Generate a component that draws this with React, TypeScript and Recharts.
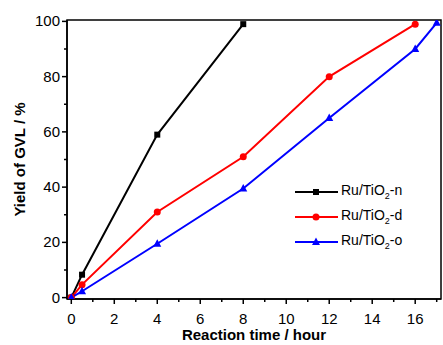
import { LineChart, Line, XAxis, YAxis, Legend, ReferenceArea } from "recharts";

const timeN = [0, 0.5, 4, 8];
const yieldN = [0, 8.3, 59, 99];
const timeD = [0, 0.5, 4, 8, 12, 16];
const yieldD = [0, 4.7, 31, 51, 80, 99];
const timeO = [0, 0.5, 4, 8, 12, 16, 17];
const yieldO = [0, 2.3, 19.5, 39.5, 65, 90, 99.5];

const xTicks = [0, 1, 2, 3, 4, 5, 6, 7, 8, 9, 10, 11, 12, 13, 14, 15, 16, 17];
const yTicks = [0, 10, 20, 30, 40, 50, 60, 70, 80, 90, 100];

const FONT = "'Liberation Sans', Arial, sans-serif";

const toRows = (ts: number[], ys: number[]) => ts.map((t, i) => ({ t, y: ys[i] }));

const series = [
  { id: "n", name: "-n", color: "#000000", shape: "square", data: toRows(timeN, yieldN) },
  { id: "d", name: "-d", color: "#ff0000", shape: "circle", data: toRows(timeD, yieldD) },
  { id: "o", name: "-o", color: "#0000ff", shape: "triangle", data: toRows(timeO, yieldO) },
];

function Marker({ cx, cy, shape, color }: any) {
  if (cx == null || cy == null) return null;
  if (shape === "square") {
    return <rect x={cx - 3} y={cy - 3} width={6} height={6} fill={color} />;
  }
  if (shape === "triangle") {
    return <path d={`M${cx},${cy - 4.5} L${cx + 4},${cy + 3} L${cx - 4},${cy + 3} Z`} fill={color} />;
  }
  return <circle cx={cx} cy={cy} r={3.5} fill={color} />;
}

// tickSize/tickMargin are 0, so x,y arrive on the axis line itself
function XTick({ x, y, payload }: any) {
  const v = payload.value;
  const major = v % 2 === 0;
  return (
    <g>
      <line x1={x} x2={x} y1={y} y2={y + (major ? 5 : 3)} stroke="#000" strokeWidth={1.5} />
      {major && (
        <text x={x} y={y + 25} textAnchor="middle" fontSize={15} fontFamily={FONT} fill="#000">
          {v}
        </text>
      )}
    </g>
  );
}

function YTick({ x, y, payload }: any) {
  const v = payload.value;
  const major = v % 20 === 0;
  return (
    <g>
      <line x1={x - (major ? 5 : 3)} x2={x} y1={y} y2={y} stroke="#000" strokeWidth={1.5} />
      {major && (
        <text x={x - 7} y={y + 5} textAnchor="end" fontSize={15} fontFamily={FONT} fill="#000">
          {v}
        </text>
      )}
    </g>
  );
}

function LegendContent() {
  return (
    <div style={{ fontFamily: FONT, fontSize: 14, color: "#000" }}>
      {series.map((s) => (
        <div key={s.id} style={{ display: "flex", alignItems: "center", height: 25 }}>
          <svg width={46} height={12}>
            <line x1={0} x2={43} y1={6} y2={6} stroke={s.color} strokeWidth={2} />
            <Marker cx={21} cy={6} shape={s.shape} color={s.color} />
          </svg>
          <span>
            Ru/TiO<sub style={{ fontSize: 9 }}>2</sub>
            {s.name}
          </span>
        </div>
      ))}
    </div>
  );
}

export default function App() {
  return (
    <div style={{ position: "absolute", left: 0, top: 0, background: "#fff" }}>
      <LineChart width={443} height={345} margin={{ top: 20, right: 2, bottom: 45, left: 66 }}>
        <XAxis
          type="number"
          dataKey="t"
          domain={[-0.2, 17.2]}
          ticks={xTicks}
          interval={0}
          height={1}
          tickSize={0}
          tickMargin={0}
          tick={<XTick />}
          axisLine={{ stroke: "#000", strokeWidth: 1.5 }}
          tickLine={false}
          allowDataOverflow
          label={({ viewBox }: any) => (
            <text
              x={viewBox.x + viewBox.width / 2}
              y={viewBox.y + 41}
              textAnchor="middle"
              fontSize={15}
              fontWeight="bold"
              fontFamily={FONT}
              fill="#000"
            >
              Reaction time / hour
            </text>
          )}
        />
        <YAxis
          type="number"
          domain={[-0.5, 100.5]}
          ticks={yTicks}
          interval={0}
          width={1}
          tickSize={0}
          tickMargin={0}
          tick={<YTick />}
          axisLine={{ stroke: "#000", strokeWidth: 1.5 }}
          tickLine={false}
          allowDataOverflow
          label={({ viewBox }: any) => (
            <text
              x={25}
              y={viewBox.y + viewBox.height / 2}
              transform={`rotate(-90 25 ${viewBox.y + viewBox.height / 2})`}
              textAnchor="middle"
              fontSize={15}
              fontWeight="bold"
              fontFamily={FONT}
              fill="#000"
            >
              Yield of GVL / %
            </text>
          )}
        />
        <ReferenceArea x1={-0.2} x2={17.2} y1={-0.5} y2={100.5} fill="none" stroke="#000" strokeWidth={1.5} />
        {series.map((s) => (
          <Line
            key={s.id}
            data={s.data}
            dataKey="y"
            name={s.id}
            type="linear"
            stroke={s.color}
            strokeWidth={2}
            dot={(p: any) => <Marker key={`${s.id}-${p.index}`} cx={p.cx} cy={p.cy} shape={s.shape} color={s.color} />}
            activeDot={false}
            isAnimationActive={false}
          />
        ))}
        <Legend
          layout="horizontal"
          verticalAlign="middle"
          align="center"
          content={<LegendContent />}
          wrapperStyle={{ position: "absolute", left: 295, top: 179, width: 140 }}
        />
      </LineChart>
    </div>
  );
}
